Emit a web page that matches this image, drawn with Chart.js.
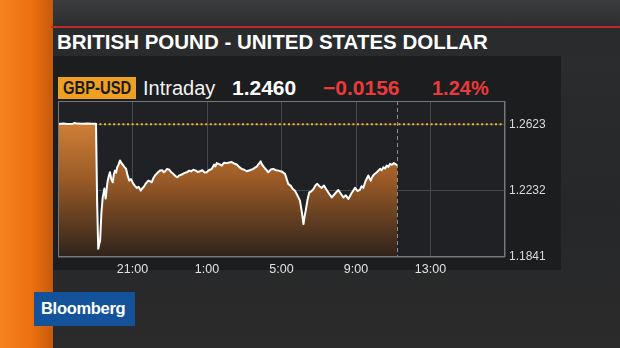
<!DOCTYPE html>
<html>
<head>
<meta charset="utf-8">
<script src="https://cdn.jsdelivr.net/npm/chart.js@4/dist/chart.umd.min.js"></script>
<style>
  html,body{margin:0;padding:0;}
  body{width:620px;height:348px;position:relative;overflow:hidden;
    background:linear-gradient(180deg,#3b3c3d 0,#2c2d2e 27px,#262728 60%,#2b2b2c 100%);
    font-family:"Liberation Sans",Arial,sans-serif;}
  .abs{position:absolute;}
  #stripe{left:0;top:0;width:53px;height:348px;background:linear-gradient(90deg,#f5831f 0,#ec700f 60%,#c65a0a 100%);}
  #redline{left:51px;top:26px;width:569px;height:2px;background:#bf2a2f;}
  #titleband{left:53px;top:28px;width:567px;height:28px;background:#2a2b2d;}
  #panel{left:53px;top:56px;width:508px;height:214px;background:#1c1d1f;}
  .t{position:absolute;line-height:1;white-space:nowrap;}
  #title{left:57px;top:31.6px;font-size:20.5px;font-weight:bold;color:#fff;}
  #tag{left:58px;top:77px;width:78px;height:22px;background:#efa020;}
  #tagtxt{left:63px;top:79.3px;font-size:18.5px;font-weight:bold;color:#1b1b1b;transform:scaleX(0.8);transform-origin:left;}
  #intra{left:143px;top:78px;font-size:20px;color:#f2f2f2;}
  #last{left:232px;top:77.2px;font-size:21px;font-weight:bold;color:#fff;}
  #chg{left:323px;top:77.2px;font-size:21px;font-weight:bold;color:#ea3a3c;}
  #pct{left:432px;top:78px;font-size:20px;font-weight:bold;color:#ea3a3c;}
  #logo{left:34px;top:292px;width:101px;height:34px;background:#14539a;}
  #logotxt{left:41px;top:300px;font-size:16.5px;font-weight:bold;color:#fff;letter-spacing:-0.3px;}
  canvas{position:absolute;left:0;top:0;}
</style>
</head>
<body>
<div id="stripe" class="abs"></div>
<div id="redline" class="abs"></div>
<div id="titleband" class="abs"></div>
<div id="panel" class="abs"></div>
<div id="title" class="t">BRITISH POUND - UNITED STATES DOLLAR</div>
<div id="tag" class="abs"></div>
<div id="tagtxt" class="t">GBP-USD</div>
<div id="intra" class="t">Intraday</div>
<div id="last" class="t">1.2460</div>
<div id="chg" class="t">−0.0156</div>
<div id="pct" class="t">1.24%</div>
<canvas id="chart" width="620" height="348"></canvas>
<div id="logo" class="abs"></div>
<div id="logotxt" class="t">Bloomberg</div>
<script>
// hours since 17:00 (axis runs 17:00 -> 17:00)
const times = [
  0,0.3,0.5,0.8,0.9,1.0,1.3,1.6,1.8,2.04,
  2.1,2.16,2.22,2.26,2.33,2.40,2.45,2.49,2.56,2.62,2.67,2.73,2.79,2.86,2.94,
  3.00,3.06,3.12,3.18,3.25,3.33,3.42,3.51,3.58,3.65,3.74,3.83,3.92,
  4.04,4.12,4.23,4.33,4.44,4.52,4.62,4.72,4.85,4.95,
  5.03,5.12,5.21,5.35,5.48,5.60,5.68,5.74,5.86,5.98,
  6.08,6.19,6.30,6.41,6.52,6.64,6.78,6.91,
  7.05,7.15,7.26,7.40,7.50,7.62,7.75,7.88,7.98,
  8.10,8.25,8.38,8.45,8.52,8.65,8.79,8.92,
  9.06,9.20,9.33,9.45,9.60,9.72,9.86,
  10.0,10.13,10.30,10.49,10.58,10.67,10.80,10.88,10.96,
  11.06,11.18,11.29,11.42,11.56,11.70,11.83,
  12.00,12.19,12.28,12.36,12.50,12.62,12.72,12.85,12.99,
  13.10,13.18,13.24,13.30,13.40,13.49,13.60,13.71,13.82,13.92,
  14.04,14.16,14.28,14.39,14.55,14.70,14.88,
  15.05,15.18,15.32,15.45,15.59,15.75,15.95,
  16.08,16.21,16.30,16.39,16.52,16.66,16.79,16.88,16.97,
  17.12,17.29,17.38,17.47,17.56,17.65,17.74,17.83,17.93,
  18.04,18.12,18.22];
const prices = [
  1.2625,1.2627,1.2625,1.2626,1.2631,1.2627,1.2626,1.2628,1.2626,1.2626,
  1.2173,1.1889,1.1920,1.1936,1.2100,1.2192,1.2220,1.2244,1.2185,1.2250,1.2291,1.2320,1.2340,1.2300,1.2281,
  1.2330,1.2350,1.2338,1.2370,1.2385,1.2410,1.2392,1.2380,1.2368,1.2362,1.2320,1.2291,1.2300,
  1.2273,1.2262,1.2248,1.2255,1.2232,1.2245,1.2256,1.2275,1.2291,1.2286,
  1.2281,1.2305,1.2321,1.2338,1.2350,1.2352,1.2340,1.2345,1.2360,1.2355,
  1.2340,1.2331,1.2318,1.2311,1.2322,1.2327,1.2335,1.2340,
  1.2350,1.2345,1.2355,1.2350,1.2342,1.2346,1.2352,1.2338,1.2340,
  1.2352,1.2360,1.2385,1.2375,1.2394,1.2388,1.2380,1.2396,
  1.2394,1.2398,1.2400,1.2392,1.2386,1.2372,1.2360,
  1.2355,1.2346,1.2352,1.2360,1.2368,1.2374,1.2392,1.2404,1.2385,
  1.2370,1.2355,1.2340,1.2356,1.2360,1.2352,1.2350,
  1.2345,1.2331,1.2300,1.2272,1.2260,1.2240,1.2232,1.2205,1.2173,
  1.2100,1.2035,1.2080,1.2114,1.2180,1.2222,1.2228,1.2240,1.2262,1.2272,
  1.2258,1.2248,1.2262,1.2242,1.2215,1.2192,1.2215,
  1.2236,1.2215,1.2192,1.2205,1.2183,1.2215,1.2248,
  1.2230,1.2236,1.2258,1.2248,1.2290,1.2321,1.2291,1.2315,1.2327,
  1.2340,1.2360,1.2352,1.2370,1.2362,1.2380,1.2372,1.2390,1.2384,
  1.2394,1.2388,1.2380];
const prevClose = 1.2623;
const yTicks = [1.1841, 1.2232, 1.2623];
const nowHour = 18.22;
const startHour = 17;

// plot background, frame and "now" marker
const frame = {
  id:'frame',
  beforeDatasetsDraw(chart){
    const {ctx, chartArea:a} = chart;
    ctx.save();
    ctx.fillStyle = '#1f2124';
    ctx.globalCompositeOperation = 'destination-over';
    ctx.fillRect(a.left, a.top, a.right-a.left, a.bottom-a.top);
    ctx.restore();
  },
  afterDatasetsDraw(chart){
    const {ctx, chartArea:a, scales} = chart;
    ctx.save();
    const x = Math.round(scales.x.getPixelForValue(nowHour)) + 0.5;
    ctx.strokeStyle = '#8e8f91';
    ctx.lineWidth = 1;
    ctx.setLineDash([4,3]);
    ctx.beginPath(); ctx.moveTo(x, a.top); ctx.lineTo(x, a.bottom); ctx.stroke();
    ctx.setLineDash([]);
    ctx.strokeStyle = '#77787a';
    ctx.strokeRect(a.left+0.5, a.top+0.5, a.right-a.left-1, a.bottom-a.top-1);
    ctx.restore();
  }
};

function fillGrad(c){
  const a = c.chart.chartArea;
  if(!a) return 'rgba(0,0,0,0)';
  const g = c.chart.ctx.createLinearGradient(0, a.top, 0, a.bottom);
  g.addColorStop(0, '#e38e3c');
  g.addColorStop(0.5, '#9b5b27');
  g.addColorStop(1, '#2e231b');
  return g;
}

new Chart(document.getElementById('chart'), {
  type:'line',
  data:{
    datasets:[
      {
        data: times.map((t,i)=>({x:t, y:prices[i]})),
        borderColor:'#ffffff', borderWidth:2, pointRadius:0, tension:0,
        borderJoinStyle:'round', fill:'start', backgroundColor: fillGrad
      },
      {
        data:[{x:0, y:prevClose},{x:24, y:prevClose}],
        borderColor:'#f2b428', borderWidth:2, borderDash:[2,2.6], pointRadius:0, fill:false
      }
    ]
  },
  options:{
    responsive:false, animation:false,
    layout:{ padding:{ left:58, top:101, right:0, bottom:0 } },
    plugins:{ legend:{display:false}, tooltip:{enabled:false} },
    scales:{
      x:{
        type:'linear', min:0, max:24,
        afterFit: s => { s.height = 91; },
        ticks:{ stepSize:4, autoSkip:false, maxRotation:0, padding:5, color:'#e2e2e2',
          font:{ family:'Liberation Sans', size:12.5 },
          callback: v => (v===0 || v===24) ? '' : ((startHour+v)%24) + ':00' },
        grid:{ color:'#46484b', drawTicks:false },
        border:{ display:false }
      },
      y:{
        position:'right', min:1.1841, max:1.2760,
        afterFit: s => { s.width = 115; },
        afterBuildTicks: s => { s.ticks = yTicks.map(v=>({value:v})); },
        ticks:{ padding:4, color:'#dadada', font:{ family:'Liberation Sans', size:12 },
          callback: v => v.toFixed(4) },
        grid:{ color:'#46484b', drawTicks:false },
        border:{ display:false }
      }
    }
  },
  plugins:[frame]
});
</script>
</body>
</html>
